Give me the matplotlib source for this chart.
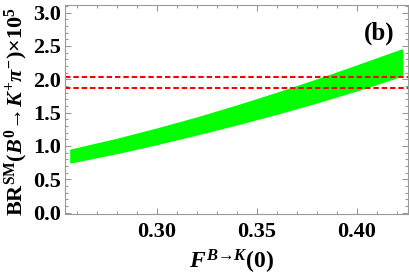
import matplotlib
matplotlib.use("Agg")
import matplotlib.pyplot as plt
from matplotlib.ticker import MultipleLocator

# data
F_vals = [0.257, 0.28, 0.30, 0.32, 0.34, 0.36, 0.38, 0.40, 0.4225]
br_lower = [0.76, 0.90, 1.035, 1.18, 1.33, 1.49, 1.66, 1.84, 2.06]
br_upper = [0.94, 1.10, 1.255, 1.42, 1.60, 1.79, 1.99, 2.20, 2.44]
exp_lines = [1.87, 2.04]
xticks = [0.30, 0.35, 0.40]
yticks = [0.0, 0.5, 1.0, 1.5, 2.0, 2.5, 3.0]

plt.rcParams['mathtext.fontset'] = 'custom'
plt.rcParams['mathtext.rm'] = 'Liberation Serif:bold'
plt.rcParams['mathtext.bf'] = 'Liberation Serif:bold'
plt.rcParams['mathtext.it'] = 'Liberation Serif:bold:italic'
plt.rcParams['mathtext.fallback'] = 'stix'
plt.rcParams['font.family'] = ['Liberation Serif', 'DejaVu Serif']
plt.rcParams['font.weight'] = 'bold'

fig = plt.figure(figsize=(4.09, 2.78), dpi=100)
ax = fig.add_axes([65.3/409, 1-213.7/278, (408-65.3)/409, (213.7-4.7)/278])

ax.fill_between(F_vals, br_lower, br_upper, facecolor='#00ff00',
                edgecolor='#00ff00', linewidth=1.5, joinstyle='round')
for v in exp_lines:
    ax.axhline(v, color='#ff0000', linewidth=1.5, dashes=(2.6, 1.4))

ax.set_xlim(0.2543, 0.42565)
ax.set_ylim(-0.015, 3.118)
ax.set_xticks(xticks)
ax.set_xticklabels([f"{t:.2f}" for t in xticks])
ax.set_yticks(yticks)
ax.set_yticklabels([f"{t:.1f}" for t in yticks])
ax.xaxis.set_minor_locator(MultipleLocator(0.01))
ax.yaxis.set_minor_locator(MultipleLocator(0.1))

tc = '#999999'
ax.tick_params(which='both', direction='in', top=True, right=True, color=tc, width=0.8)
ax.tick_params(which='major', length=4.5)
ax.tick_params(which='minor', length=2.5)
ax.tick_params(axis='x', which='major', labelsize=16, pad=6)
ax.tick_params(axis='y', which='major', labelsize=16, pad=3)
for lab in ax.get_xticklabels() + ax.get_yticklabels():
    lab.set_fontweight('bold')
for s in ax.spines.values():
    s.set_color(tc)
    s.set_linewidth(0.8)

ax.text(0.962, 0.865, '(b)', transform=ax.transAxes, fontsize=18,
        fontweight='bold', ha='right', va='center')

fig.text(16/409, 1-111.5/278, r'$\mathrm{BR}^{\mathrm{SM}}(B^{0}\mathrm{→}K^{+}\pi^{-})\mathrm{×}10^{5}$',
         rotation=90, ha='center', va='center', fontsize=16)
fig.text(231/409, 1-262/278, r'$F^{B\mathrm{→}K}(0)$', ha='center', va='center', fontsize=17)

fig.savefig('out.png', dpi=100)
